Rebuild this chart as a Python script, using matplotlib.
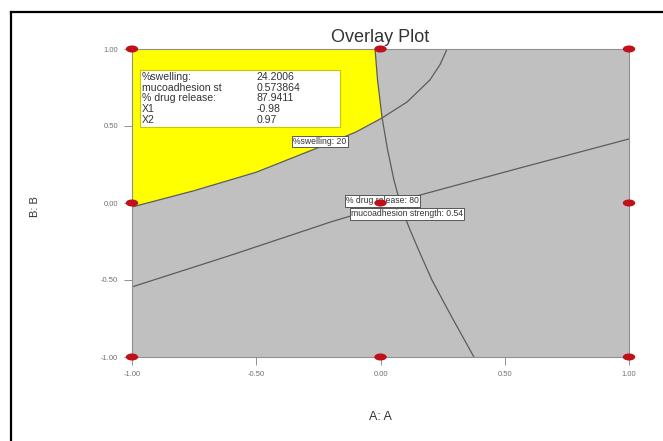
import numpy as np
import matplotlib
matplotlib.use("Agg")
import matplotlib.pyplot as plt
from matplotlib.patches import Ellipse, Polygon, Rectangle
from matplotlib.lines import Line2D

plt.rcParams['font.family'] = ['Liberation Sans', 'DejaVu Sans']

ticks = [-1.0, -0.5, 0.0, 0.5, 1.0]
tick_labels = ["-1.00", "-0.50", "0.00", "0.50", "1.00"]

# design points (coded factor levels)
design_A = [-1, 0, 1, -1, 0, 1, -1, 0, 1]
design_B = [1, 1, 1, 0, 0, 0, -1, -1, -1]

# %swelling = 20 contour
swell_A = [-1.0, -0.75, -0.5, -0.25, -0.1, 0.006, 0.107, 0.199, 0.24, 0.268]
swell_B = [-0.026, 0.08, 0.20, 0.36, 0.46, 0.552, 0.656, 0.799, 0.90, 1.0]

# % drug release = 80 contour
release_A = [-0.022, -0.012, 0.006, 0.028, 0.054, 0.087, 0.119, 0.160, 0.207,
             0.250, 0.290, 0.333, 0.376]
release_B = [1.0, 0.80, 0.558, 0.35, 0.149, -0.045, -0.175, -0.33, -0.5,
             -0.63, -0.75, -0.875, -1.0]

# mucoadhesion strength = 0.54 contour
muco_A = [-1.0, -0.6, -0.2, 0.16, 0.56, 1.0]
muco_B = [-0.545, -0.338, -0.123, 0.052, 0.227, 0.416]

flag_names = ["%swelling:", "mucoadhesion st", "% drug release:", "X1", "X2"]
flag_values = ["24.2006", "0.573864", "87.9411", "-0.98", "0.97"]

W, H = 663, 441
fig = plt.figure(figsize=(W / 100, H / 100), dpi=100)
ax = fig.add_axes([132 / W, 1 - 357 / H, 497 / W, 308 / H])
ax.set_facecolor('#c0c0c0')
ax.set_xlim(-1, 1)
ax.set_ylim(-1, 1)

# find where the swelling and release contours cross
bi = 0.55
for _ in range(30):
    ai = np.interp(bi, release_B[::-1], release_A[::-1])
    bi = np.interp(ai, swell_A, swell_B)

# feasible (yellow) region
poly = [(-1.0, swell_B[0]), (-1.0, 1.0)]
poly += [(a, b) for a, b in zip(release_A, release_B) if b > bi]
poly += [(ai, bi)]
poly += [(a, b) for a, b in zip(swell_A[::-1], swell_B[::-1]) if a < ai]
ax.add_patch(Polygon(poly, closed=True, fc='#ffff00', ec='none', zorder=1))

line_kw = dict(color='#5c5c5c', lw=0.9, zorder=2)
ax.plot(swell_A, swell_B, **line_kw)
ax.plot(release_A, release_B, **line_kw)
ax.plot(muco_A, muco_B, **line_kw)

box_kw = dict(boxstyle='square,pad=0.15', fc='white', ec='#404040', lw=0.6)
ax.text(-0.245, 0.40, "%swelling: 20", fontsize=6.2, ha='center', va='center',
        color='#333333', bbox=box_kw, zorder=3)
ax.text(0.008, 0.013, "% drug release: 80", fontsize=6.2, ha='center', va='center',
        color='#333333', bbox=box_kw, zorder=3)
ax.text(0.107, -0.071, "mucoadhesion strength: 0.54", fontsize=6.2, ha='center',
        va='center', color='#333333', bbox=box_kw, zorder=3)

# flag box with the selected solution
ax.add_patch(Rectangle((-0.968, 0.494), 0.805, 0.37, fc='white', ec='#c8c800',
                       lw=0.8, zorder=3))
for i, (name, val) in enumerate(zip(flag_names, flag_values)):
    yy = 0.818 - i * 0.069
    ax.text(-0.96, yy, name, fontsize=7.6, va='center', color='#333333', zorder=4)
    ax.text(-0.50, yy, val, fontsize=7.6, va='center', color='#333333', zorder=4)

for a, b in zip(design_A, design_B):
    ax.add_patch(Ellipse((a, b), 0.05, 0.046, fc='#c0101a', ec='none',
                         clip_on=False, zorder=6))

ax.set_xticks(ticks)
ax.set_xticklabels(tick_labels)
ax.set_yticks(ticks)
ax.set_yticklabels(tick_labels)
ax.tick_params(direction='out', length=6, width=0.6, color='#808080',
               labelsize=5.5, labelcolor='#707070', pad=4)
for s in ax.spines.values():
    s.set_color('#909090')
    s.set_linewidth(0.8)

fig.text(380 / W, 1 - 38 / H, "Overlay Plot", ha='center', va='center',
         fontsize=13, color='#333333')
fig.text(380.5 / W, 1 - 417 / H, "A: A", ha='center', va='center',
         fontsize=9, color='#333333')
fig.text(35 / W, 1 - 207 / H, "B: B", ha='center', va='center', rotation=90,
         fontsize=8, color='#333333')

# page frame
fig.add_artist(Line2D([11 / W, 1], [1 - 12 / H, 1 - 12 / H], transform=fig.transFigure,
                      color='black', lw=1.6))
fig.add_artist(Line2D([11 / W, 11 / W], [0, 1 - 12 / H], transform=fig.transFigure,
                      color='black', lw=1.6))

fig.savefig("out.png", dpi=100)
